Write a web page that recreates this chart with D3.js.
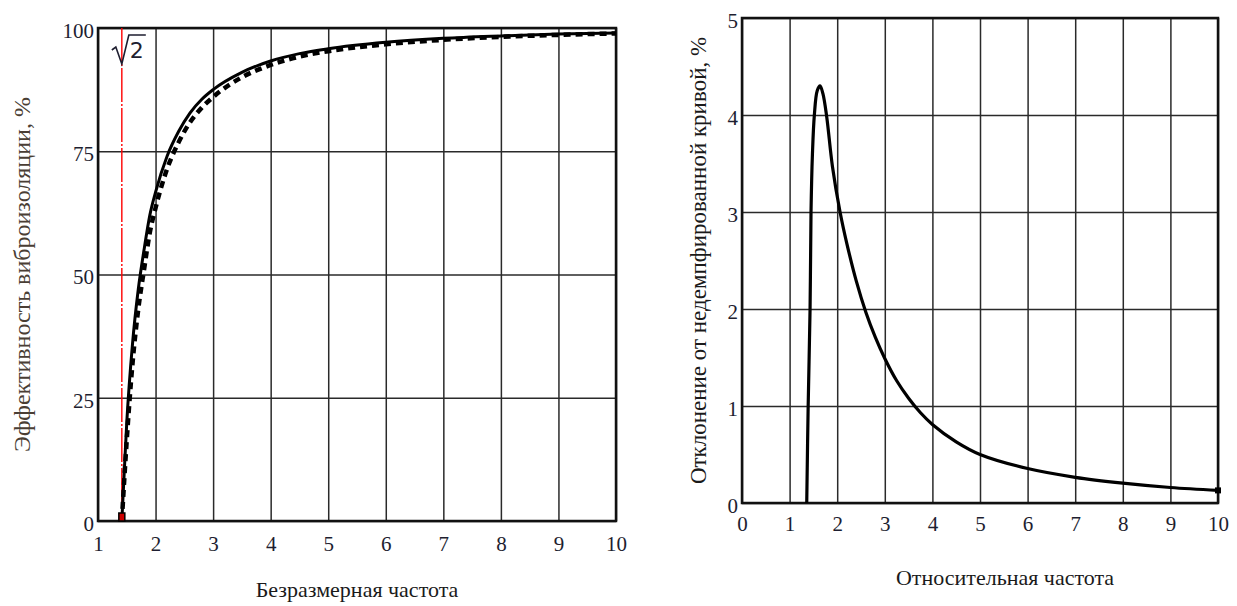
<!DOCTYPE html>
<html>
<head>
<meta charset="utf-8">
<script src="https://cdn.jsdelivr.net/npm/d3@7"></script>
<style>
  body { margin: 0; background: #fff; }
  svg { display: block; }
  .tick text { font-family: "Liberation Serif", serif; font-size: 21px; fill: #1e1e30; }
</style>
</head>
<body>
<svg id="chart" width="1237" height="606"></svg>
<script>
// left chart: vibration isolation efficiency, %
const solidR = [1.414, 1.45, 1.5, 1.6, 1.7, 1.8, 1.9, 2, 2.2, 2.4, 2.6, 2.8, 3, 3.5, 4, 4.5, 5, 6, 7, 8, 9, 10];
const solidE = [0, 8.5, 20, 36, 47, 55, 62, 66.7, 74, 79, 82.8, 85.5, 87.5, 91, 93.3, 94.8, 95.8, 97.1, 97.9, 98.4, 98.8, 99];
const dashR = [1.414, 1.5, 1.6, 1.7, 1.8, 1.9, 2, 2.2, 2.4, 2.6, 2.8, 3, 3.5, 4, 4.5, 5, 6, 7, 8, 9, 10];
const dashE = [0, 16.5, 32, 43, 51, 58.5, 63.5, 71.4, 76.8, 80.9, 83.8, 86, 90, 92.5, 94.2, 95.3, 96.7, 97.6, 98.2, 98.6, 98.9];
const sqrt2 = 1.414;

// right chart: deviation from undamped curve, %
const devR = [1.36, 1.39, 1.43, 1.45, 1.48, 1.52, 1.58, 1.64, 1.7, 1.78, 1.9, 2.06, 2.2, 2.4, 2.6, 2.8, 3, 3.25, 3.5, 3.75, 4, 4.5, 5, 6, 7, 8, 9, 10];
const devV = [0, 1, 2, 3, 3.6, 4.0, 4.25, 4.3, 4.22, 3.98, 3.47, 3.0, 2.68, 2.29, 1.97, 1.71, 1.49, 1.26, 1.08, 0.93, 0.81, 0.63, 0.5, 0.355, 0.265, 0.205, 0.16, 0.13];

const leftTicksX = [1, 2, 3, 4, 5, 6, 7, 8, 9, 10];
const leftTicksY = [0, 25, 50, 75, 100];
const rightTicksX = [0, 1, 2, 3, 4, 5, 6, 7, 8, 9, 10];
const rightTicksY = [0, 1, 2, 3, 4, 5];

const svg = d3.select("#chart");

function panel(opts) {
    const x = d3.scaleLinear().domain(opts.xDomain).range(opts.xRange);
    const y = d3.scaleLinear().domain(opts.yDomain).range(opts.yRange);
    const h = opts.yRange[0] - opts.yRange[1];
    const w = opts.xRange[1] - opts.xRange[0];
    const g = svg.append("g");

    // grid + labels via axes
    const gx = g.append("g")
        .attr("transform", `translate(0,${opts.yRange[0]})`)
        .call(d3.axisBottom(x).tickValues(opts.xTicks).tickSize(-h).tickPadding(opts.xPad).tickFormat(d3.format("d")));
    gx.select(".domain").remove();
    gx.selectAll(".tick line").attr("stroke", "#2a2a2a").attr("stroke-width", 1.5);

    const gy = g.append("g")
        .attr("transform", `translate(${opts.xRange[0]},0)`)
        .call(d3.axisLeft(y).tickValues(opts.yTicks).tickSize(-w).tickPadding(4).tickFormat(d3.format("d")));
    gy.select(".domain").remove();
    gy.selectAll(".tick line").attr("stroke", "#2a2a2a").attr("stroke-width", 1.5);
    gy.selectAll(".tick text").attr("dy", "0.45em");

    // frame
    g.append("rect")
        .attr("x", opts.xRange[0]).attr("y", opts.yRange[1])
        .attr("width", w).attr("height", h)
        .attr("fill", "none").attr("stroke", "#111").attr("stroke-width", 2.5);

    return { g, x, y };
}

// ---------- left chart ----------
const L = panel({
    xDomain: [1, 10], xRange: [98, 616],
    yDomain: [0, 100], yRange: [521, 28],
    xTicks: leftTicksX, yTicks: leftTicksY, xPad: 15
});

L.g.append("line")
    .attr("x1", L.x(sqrt2)).attr("x2", L.x(sqrt2))
    .attr("y1", L.y(100)).attr("y2", L.y(0))
    .attr("stroke", "#ff0000").attr("stroke-width", 1.4)
    .attr("stroke-dasharray", "34,2,2,2");

const lineL = d3.line().x(d => L.x(d[0])).y(d => L.y(d[1])).curve(d3.curveMonotoneX);

L.g.append("path")
    .datum(dashR.map((r, i) => [r, dashE[i]]))
    .attr("d", lineL)
    .attr("fill", "none").attr("stroke", "#000").attr("stroke-width", 4.5)
    .attr("stroke-dasharray", "7,5");

L.g.append("path")
    .datum(solidR.map((r, i) => [r, solidE[i]]))
    .attr("d", lineL)
    .attr("fill", "none").attr("stroke", "#000").attr("stroke-width", 3);

L.g.append("rect")
    .attr("x", L.x(sqrt2) - 3).attr("y", L.y(0) - 8)
    .attr("width", 6).attr("height", 8)
    .attr("fill", "#c00").attr("stroke", "#000").attr("stroke-width", 1.5);

// sqrt(2) label
const sx = L.x(sqrt2) - 10;
L.g.append("path")
    .attr("d", `M${sx},${50} l4,-3 l6,17 l7,-29 h17`)
    .attr("fill", "none").attr("stroke", "#1e1e30").attr("stroke-width", 1.6);
L.g.append("text")
    .attr("x", sx + 18).attr("y", 58)
    .attr("font-family", "'DejaVu Sans', sans-serif").attr("font-size", 22)
    .attr("fill", "#1e1e30").text("2");

svg.append("text")
    .attr("transform", `translate(30,${L.y(50)}) rotate(-90)`)
    .attr("text-anchor", "middle")
    .attr("font-family", "'Liberation Serif', serif").attr("font-size", 24)
    .attr("fill", "#4a3e34")
    .text("Эффективность виброизоляции, %");

svg.append("text")
    .attr("x", (98 + 616) / 2).attr("y", 597)
    .attr("text-anchor", "middle")
    .attr("font-family", "'Liberation Serif', serif").attr("font-size", 22)
    .attr("fill", "#1a1a1a")
    .text("Безразмерная частота");

// ---------- right chart ----------
const R = panel({
    xDomain: [0, 10], xRange: [742, 1218],
    yDomain: [0, 5], yRange: [503, 18],
    xTicks: rightTicksX, yTicks: rightTicksY, xPad: 13
});

const lineR = d3.line().x(d => R.x(d[0])).y(d => R.y(d[1])).curve(d3.curveCatmullRom.alpha(0.5));

R.g.append("path")
    .datum(devR.map((r, i) => [r, devV[i]]))
    .attr("d", lineR)
    .attr("fill", "none").attr("stroke", "#000").attr("stroke-width", 3.2);

R.g.append("rect")
    .attr("x", R.x(10) - 3).attr("y", R.y(devV[devV.length - 1]) - 3)
    .attr("width", 6).attr("height", 6).attr("fill", "#000");

svg.append("text")
    .attr("transform", `translate(706,${R.y(2.5)}) rotate(-90)`)
    .attr("text-anchor", "middle")
    .attr("font-family", "'Liberation Serif', serif").attr("font-size", 23)
    .attr("fill", "#1a1a1a")
    .text("Отклонение от недемпфированной кривой, %");

svg.append("text")
    .attr("x", 1005).attr("y", 585)
    .attr("text-anchor", "middle")
    .attr("font-family", "'Liberation Serif', serif").attr("font-size", 22)
    .attr("fill", "#1a1a1a")
    .text("Относительная частота");
</script>
</body>
</html>
